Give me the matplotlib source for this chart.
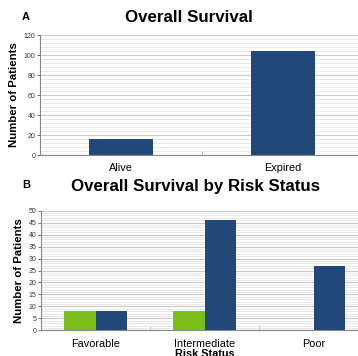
import matplotlib.pyplot as plt
from matplotlib.ticker import MultipleLocator
import numpy as np

plt.rcParams['font.family'] = ['Liberation Sans', 'DejaVu Sans']

# Panel A data
survival_labels = ["Alive", "Expired"]
survival_counts = [16, 104]

# Panel B data
risk_labels = ["Favorable", "Intermediate", "Poor"]
alive_by_risk = [8, 8, 0]
expired_by_risk = [8, 46, 27]

green = "#7dbf1a"
navy = "#22487a"
W, H = 358, 356

fig = plt.figure(figsize=(W / 100, H / 100), dpi=100)


def style_axes(ax, ymax, major, minor):
    ax.set_ylim(0, ymax)
    ax.yaxis.set_major_locator(MultipleLocator(major))
    ax.yaxis.set_minor_locator(MultipleLocator(minor))
    ax.grid(axis='y', which='major', color='#c8c8c8', linewidth=0.8)
    ax.grid(axis='y', which='minor', color='#e4e4e4', linewidth=0.6)
    ax.set_axisbelow(True)
    for s in ['top', 'right']:
        ax.spines[s].set_visible(False)
    for s in ['left', 'bottom']:
        ax.spines[s].set_color('#888888')
        ax.spines[s].set_linewidth(0.8)
    ax.tick_params(axis='y', which='major', labelsize=5, colors='#333333',
                   length=2, width=0.5, pad=1.5)
    ax.tick_params(axis='y', which='minor', length=0)
    ax.tick_params(axis='x', which='both', length=0, labelsize=7.8, pad=6)
    ax.set_ylabel("Number of Patients", fontsize=8.2, fontweight='bold', labelpad=3)


# Panel A
axA = fig.add_axes([40 / W, 1 - 155 / H, 324 / W, 120 / H])
xa = np.arange(len(survival_labels))
axA.bar(xa, survival_counts, width=0.4, color=navy)
axA.set_xlim(-0.5, len(survival_labels) - 0.5)
axA.set_xticks(xa)
axA.set_xticklabels(survival_labels)
style_axes(axA, 120, 20, 4)
axA.set_xticks([0.5], minor=True)
axA.tick_params(axis='x', which='minor', length=3, color='#aaaaaa', direction='in')

# Panel B
axB = fig.add_axes([41 / W, 1 - 330.3 / H, 327 / W, 119.6 / H])
xb = np.arange(len(risk_labels))
bw = 0.29
axB.bar(xb - bw / 2, alive_by_risk, width=bw, color=green)
axB.bar(xb + bw / 2, expired_by_risk, width=bw, color=navy)
axB.set_xlim(-0.5, len(risk_labels) - 0.5)
axB.set_xticks(xb)
axB.set_xticklabels(risk_labels)
style_axes(axB, 50, 5, 1)
axB.set_xticks([0.5, 1.5], minor=True)
axB.tick_params(axis='x', which='minor', length=3, color='#aaaaaa', direction='in')
axB.set_xlabel("Risk Status", fontsize=7.8, fontweight='bold', labelpad=0)

# Titles and panel letters
fig.text(189 / W, 1 - 18 / H, "Overall Survival", ha='center', va='center',
         fontsize=12.2, fontweight='bold')
fig.text(196 / W, 1 - 186 / H, "Overall Survival by Risk Status", ha='center',
         va='center', fontsize=12.2, fontweight='bold')
fig.text(26 / W, 1 - 17 / H, "A", ha='center', va='center', fontsize=8,
         fontweight='bold')
fig.text(26 / W, 1 - 185 / H, "B", ha='center', va='center', fontsize=8,
         fontweight='bold')

fig.savefig("out.png", dpi=100)
plt.close(fig)
